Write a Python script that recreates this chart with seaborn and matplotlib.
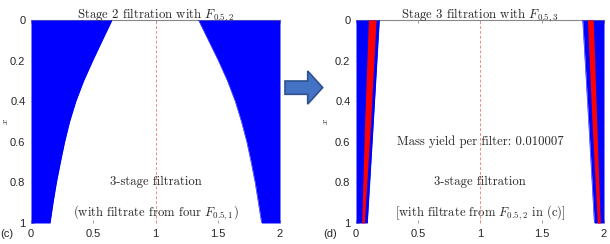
import numpy as np
import matplotlib
matplotlib.use("Agg")
import matplotlib.pyplot as plt
import seaborn as sns
from matplotlib.patches import Polygon

# ---- data ----
# panel (c): boundaries of the blue (deposit) regions
y_c = [0.0, 0.1, 0.2, 0.3, 0.4, 0.5, 0.6, 0.7, 0.8, 0.9, 1.0]
left_c = [0.65, 0.572, 0.495, 0.422, 0.36, 0.31, 0.27, 0.236, 0.204, 0.177, 0.153]
right_c = [1.345, 1.425, 1.505, 1.578, 1.64, 1.69, 1.733, 1.768, 1.80, 1.826, 1.852]

# panel (d): left wall layers (blue outer, red band, thin blue)
y_d = [0.0, 0.5, 1.0]
d_left_red_start = [0.100, 0.070, 0.046]
d_left_red_end = [0.162, 0.118, 0.067]
d_left_blue_end = [0.188, 0.140, 0.091]
# right wall layers
d_right_blue_start = [1.828, 1.876, 1.922]
d_right_red_start = [1.866, 1.903, 1.946]
d_right_red_end = [1.914, 1.941, 1.970]

xticks = [0, 0.5, 1, 1.5, 2]
xtick_labels = ["0", "0.5", "1", "1.5", "2"]
yticks = [0, 0.2, 0.4, 0.6, 0.8, 1]
ytick_labels = ["0", "0.2", "0.4", "0.6", "0.8", "1"]

title_c = r"Stage 2 filtration with $F_{0.5,2}$"
title_d = r"Stage 3 filtration with $F_{0.5,3}$"
texts_c = [(0.80, "3-stage filtration"), (0.95, r"(with filtrate from four $F_{0.5,1}$)")]
texts_d = [(0.60, "Mass yield per filter: 0.010007"), (0.80, "3-stage filtration"),
           (0.95, r"[with filtrate from $F_{0.5,2}$ in (c)]")]

sns.set_style("white")
plt.rcParams["font.family"] = ["Liberation Sans", "DejaVu Sans"]
plt.rcParams["mathtext.fontset"] = "cm"

fig = plt.figure(figsize=(6.10, 2.44), dpi=100)
ax_c = fig.add_axes([31 / 610, 21 / 244, 249 / 610, 203 / 244])
ax_d = fig.add_axes([356 / 610, 21 / 244, 248 / 610, 203 / 244])

BLUE = "#0000ff"
RED = "#ff0000"

# panel (c)
ax_c.fill_betweenx(y_c, 0, left_c, color=BLUE, lw=0, zorder=3)
ax_c.fill_betweenx(y_c, right_c, 2, color=BLUE, lw=0, zorder=3)
sns.lineplot(x=left_c, y=y_c, sort=False, ax=ax_c, color=BLUE, lw=0.4, zorder=3)
sns.lineplot(x=right_c, y=y_c, sort=False, ax=ax_c, color=BLUE, lw=0.4, zorder=3)

# panel (d)
ax_d.fill_betweenx(y_d, 0, d_left_blue_end, color=BLUE, lw=0, zorder=3)
ax_d.fill_betweenx(y_d, d_left_red_start, d_left_red_end, color=RED, lw=0, zorder=3.1)
ax_d.fill_betweenx(y_d, d_right_blue_start, 2, color=BLUE, lw=0, zorder=3)
ax_d.fill_betweenx(y_d, d_right_red_start, d_right_red_end, color=RED, lw=0, zorder=3.1)
sns.lineplot(x=d_left_blue_end, y=y_d, sort=False, ax=ax_d, color=BLUE, lw=0.4, zorder=3)
sns.lineplot(x=d_right_blue_start, y=y_d, sort=False, ax=ax_d, color=BLUE, lw=0.4, zorder=3)

label_x = {0: -0.085, 1: -0.105}
for i, (ax, title, texts) in enumerate([(ax_c, title_c, texts_c), (ax_d, title_d, texts_d)]):
    ax.axvline(1, color="#f08a8a", lw=0.7, ls=(0, (3, 2)), zorder=1)
    ax.set_xlim(0, 2)
    ax.set_ylim(1, 0)
    ax.set_xticks(xticks)
    ax.set_xticklabels(xtick_labels)
    ax.set_yticks(yticks)
    ax.set_yticklabels(ytick_labels)
    ax.tick_params(direction="in", length=2.5, width=0.5, color="#777777",
                   labelsize=8, pad=4, top=True, bottom=True, left=True, right=False)
    for s in ["left", "right", "bottom"]:
        ax.spines[s].set_visible(False)
    ax.spines["top"].set_color("#888888")
    ax.spines["top"].set_linewidth(0.8)
    ax.spines["top"].set_zorder(2)
    ax.set_title(title, fontsize=9.2, family="cmr10", pad=1.5)
    ax.set_ylabel(r"$x$", fontsize=7)
    ax.yaxis.set_label_coords(label_x[i], 0.5)
    ax.set_xlabel("")
    for yy, t in texts:
        ax.text(1, yy, t, ha="center", va="center", fontsize=9.1, family="cmr10",
                zorder=5)
    ax.set_facecolor("white")

fig.text(0 / 610, 1 - 234 / 244, "(c)", fontsize=8, va="center", ha="left")
fig.text(323 / 610, 1 - 234 / 244, "(d)", fontsize=8, va="center", ha="left")

# decorative arrow between panels (in inches)
arrow_pts = [(2.85, 1.497), (3.077, 1.497), (3.077, 1.399), (3.227, 1.564),
             (3.077, 1.73), (3.077, 1.63), (2.85, 1.63)]
fig.patches.append(Polygon(arrow_pts, closed=True, transform=fig.dpi_scale_trans,
                           facecolor="#4472c4", edgecolor="#2f528f", lw=1.2))

fig.savefig("out.png", dpi=100)
